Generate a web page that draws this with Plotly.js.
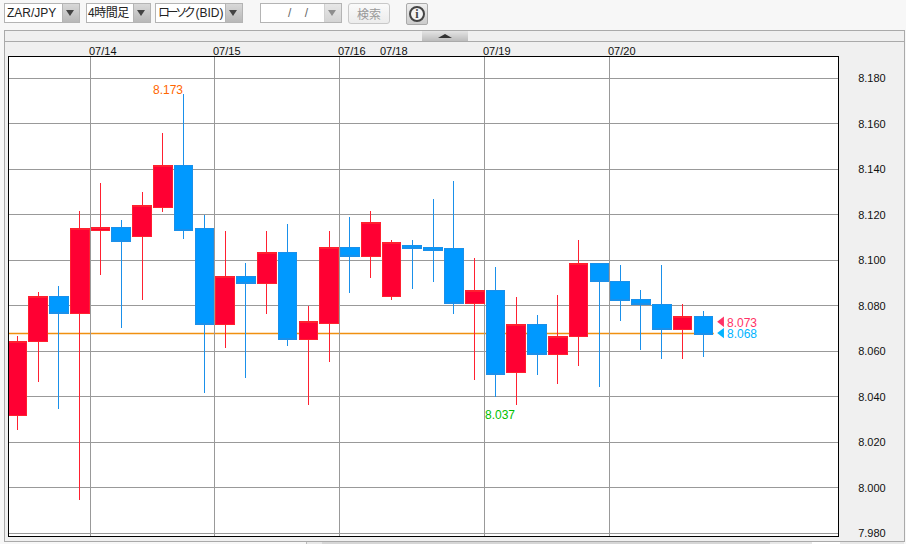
<!DOCTYPE html>
<html><head><meta charset="utf-8">
<script src="https://cdn.plot.ly/plotly-3.0.1.min.js"></script>
<style>
html,body{margin:0;padding:0;background:#f7f7f7;width:906px;height:544px;overflow:hidden;font-family:"Liberation Sans",sans-serif}
.abs{position:absolute;box-sizing:border-box}
.sel{background:#fff;border:1px solid #b4b4b4;height:20px;top:3px;font-size:12px;line-height:18px;color:#222;padding-left:1px;font-family:"Liberation Sans","Noto Sans CJK JP",sans-serif;white-space:nowrap;overflow:hidden}
.btn{background:linear-gradient(#d8d8d8,#b8b8b8);position:absolute;right:0;top:0;width:16px;height:18px;border-left:1px solid #b4b4b4}
.btn:after{content:"";position:absolute;left:3px;top:6px;border-left:4px solid transparent;border-right:4px solid transparent;border-top:6px solid #444}
#panel{left:4px;top:30px;width:901px;height:512px;background:#f0f0f0;border:1px solid #aaa}
#chart{position:absolute;left:0;top:0;width:906px;height:544px}
.boxlayer path{stroke-linejoin:miter !important;shape-rendering:crispEdges}
</style></head><body>
<div class="abs sel" style="left:4px;width:76px;padding-left:2px">ZAR/JPY<div class="btn"></div></div>
<div class="abs sel" style="left:86px;width:65px"><span style="letter-spacing:-.5px">4時間足</span><div class="btn"></div></div>
<div class="abs sel" style="left:155px;width:88px;padding-left:2px"><span style="letter-spacing:-3.4px">ローソク</span><span style="padding-left:3px">(BID)</span><div class="btn"></div></div>
<div class="abs sel" style="left:260px;width:82px;padding-left:27px;color:#666">/&nbsp;&nbsp;&nbsp;&nbsp;/<div class="btn" style="opacity:.6"></div></div>
<div class="abs" style="left:348px;top:3px;width:42px;height:21px;border:1px solid #c8c8c8;border-radius:3px;background:linear-gradient(#fafafa,#ececec);color:#999;font:12px 'Noto Sans CJK JP';text-align:center;line-height:19px">検索</div>
<div class="abs" style="left:406px;top:3px;width:22px;height:22px;border:1px solid #aaa;border-radius:2px;background:linear-gradient(#eee,#ccc)"><div class="abs" style="left:2px;top:2px;width:16px;height:16px;border:2px solid #444;border-radius:50%;background:#f4f4f4;color:#444;font:bold 12px/12px 'Liberation Serif';text-align:center">i</div></div>
<div class="abs" id="panel"></div>
<div class="abs" style="left:5px;top:41px;width:899px;height:1px;background:#aaa"></div>
<div class="abs" style="left:422px;top:31px;width:46px;height:10px;background:linear-gradient(#e4e4e4,#bcbcbc)"><div class="abs" style="left:16px;top:3px;border-left:7px solid transparent;border-right:7px solid transparent;border-bottom:4px solid #333"></div></div>
<div class="abs" style="left:306px;top:542px;width:16px;height:2px;background:#e8e8e8;border-left:1px solid #bbb"></div>
<div class="abs" style="left:322px;top:542px;width:448px;height:2px;background:#d6d6d6"></div>
<div class="abs" style="left:770px;top:542px;width:42px;height:2px;background:#e8e8e8"></div>
<div class="abs" style="left:812px;top:542px;width:28px;height:2px;background:#fff"></div>
<div class="abs" style="left:840px;top:542px;width:64px;height:2px;background:#e8e8e8"></div>
<div id="chart"></div>
<script>
// Candles, oldest first
const candleIndex = [0,1,2,3,4,5,6,7,8,9,10,11,12,13,14,15,16,17,18,19,20,21,22,23,24,25,26,27,28,29,30,31,32,33];
const openValues  = [8.0317,8.0641,8.0839,8.0765,8.1133,8.1146,8.1104,8.1234,8.1419,8.1138,8.0716,8.0927,8.0897,8.1036,8.0654,8.0724,8.1058,8.1015,8.0843,8.1067,8.1058,8.1050,8.0812,8.0869,8.0505,8.0720,8.0584,8.0664,8.0988,8.0909,8.0830,8.0808,8.0694,8.0751];
const highValues  = [8.0667,8.0861,8.0887,8.1217,8.1340,8.1177,8.1300,8.1560,8.1730,8.1199,8.1129,8.0988,8.1129,8.1160,8.0799,8.1129,8.1190,8.1217,8.1089,8.1089,8.1269,8.1349,8.1010,8.0971,8.0839,8.0760,8.0847,8.1089,8.0988,8.0979,8.0869,8.0979,8.0808,8.0777];
const lowValues   = [8.0254,8.0465,8.0348,7.9946,8.0935,8.0702,8.0825,8.1212,8.1094,8.0417,8.0615,8.0483,8.0764,8.0623,8.0364,8.0553,8.0856,8.0922,8.0825,8.0874,8.0905,8.0764,8.0474,8.0399,8.0364,8.0496,8.0456,8.0535,8.0443,8.0733,8.0605,8.0566,8.0566,8.0575];
const closeValues = [8.0641,8.0839,8.0765,8.1138,8.1146,8.1085,8.1239,8.1419,8.1133,8.0716,8.0927,8.0896,8.1036,8.0654,8.0729,8.1058,8.1015,8.1168,8.1080,8.1054,8.1045,8.0812,8.0869,8.0496,8.0720,8.0584,8.0667,8.0988,8.0905,8.0825,8.0804,8.0694,8.0751,8.0676];
// Day boundaries
const dayLabels = ["07/14","07/15","07/16","07/18","07/19","07/20"];
const dayPositions = [3.51,9.48,15.49,17.5,22.46,28.47];
const dayGridPositions = [3.51,9.48,15.49,22.46,28.47];
// Price readouts
const highLabel = "8.173", highLabelIndex = 8, highLabelValue = 8.173;
const lowLabel = "8.037", lowLabelIndex = 24, lowLabelValue = 8.0364;
const askPrice = 8.073, bidPrice = 8.068, priceLineValue = 8.0678;
const askText = "8.073", bidText = "8.068";
const priceTicks = [7.98,8.00,8.02,8.04,8.06,8.08,8.10,8.12,8.14,8.16,8.18];
const priceTickText = ["7.980","8.000","8.020","8.040","8.060","8.080","8.100","8.120","8.140","8.160","8.180"];

const RED="#ff0033", RED_LINE="#ff2030", BLUE="#0099ff", BLUE_LINE="#1a90ea";
const traces=[{
  type:"candlestick",x:candleIndex,open:openValues,high:highValues,low:lowValues,close:closeValues,
  increasing:{line:{color:RED_LINE,width:1},fillcolor:RED},
  decreasing:{line:{color:BLUE_LINE,width:1},fillcolor:BLUE},
  whiskerwidth:0,showlegend:false,hoverinfo:"skip"
},{
  type:"scatter",mode:"markers",x:[33.88],y:[askPrice],
  marker:{symbol:"triangle-left",size:9,color:"#ff3366"},showlegend:false,hoverinfo:"skip"
},{
  type:"scatter",mode:"markers",x:[33.88],y:[bidPrice],
  marker:{symbol:"triangle-left",size:9,color:"#00b4ff"},showlegend:false,hoverinfo:"skip"
}];
const labelFont={family:'"Liberation Sans",sans-serif',size:12};
const annotations=dayLabels.map((t,i)=>({
  x:dayPositions[i],yref:"paper",y:1,yanchor:"bottom",xanchor:"left",xshift:-3,yshift:-2,showarrow:false,
  text:t,font:{family:'"Liberation Sans",sans-serif',size:11,color:"#111"}
})).concat([
 {x:highLabelIndex,y:highLabelValue,xanchor:"right",yanchor:"bottom",xshift:1,yshift:-5,showarrow:false,text:highLabel,font:{...labelFont,color:"#ff6600"}},
 {x:lowLabelIndex,y:lowLabelValue,xanchor:"right",yanchor:"top",xshift:1,yshift:-1,showarrow:false,text:lowLabel,font:{...labelFont,color:"#00c000"}},
 {x:34.06,y:askPrice,xanchor:"left",yanchor:"middle",yshift:-1,showarrow:false,text:askText,font:{...labelFont,color:"#ff3366"}},
 {x:34.06,y:bidPrice,xanchor:"left",yanchor:"middle",yshift:-1,showarrow:false,text:bidText,font:{...labelFont,color:"#00b4ff"}}
]);
const layout={
  width:906,height:544,margin:{l:9,r:68,t:57,b:8},
  paper_bgcolor:"rgba(0,0,0,0)",plot_bgcolor:"#fff",
  boxgap:0.1,boxgroupgap:0,boxmode:"overlay",
  xaxis:{type:"linear",range:[-0.399,39.476],tickvals:dayGridPositions,showticklabels:false,ticks:"",
    showgrid:true,gridcolor:"#999",gridwidth:1,zeroline:false,showline:true,mirror:true,linecolor:"#000",linewidth:1,
    rangeslider:{visible:false},fixedrange:true},
  yaxis:{side:"right",range:[7.9788,8.1894],tickvals:priceTicks,ticktext:priceTickText,ticks:"",
    ticklabelstandoff:17,showgrid:true,gridcolor:"#999",gridwidth:1,zeroline:false,showline:true,mirror:true,linecolor:"#000",linewidth:1,
    tickfont:{family:'"Liberation Sans",sans-serif',size:11,color:"#111"},fixedrange:true},
  shapes:[{type:"line",layer:"below",xref:"x",yref:"y",x0:-0.399,x1:33.5,y0:priceLineValue,y1:priceLineValue,line:{color:"#f09010",width:1.4}}],
  annotations
};
Plotly.newPlot("chart",traces,layout,{displayModeBar:false,staticPlot:true});
</script>
</body></html>
